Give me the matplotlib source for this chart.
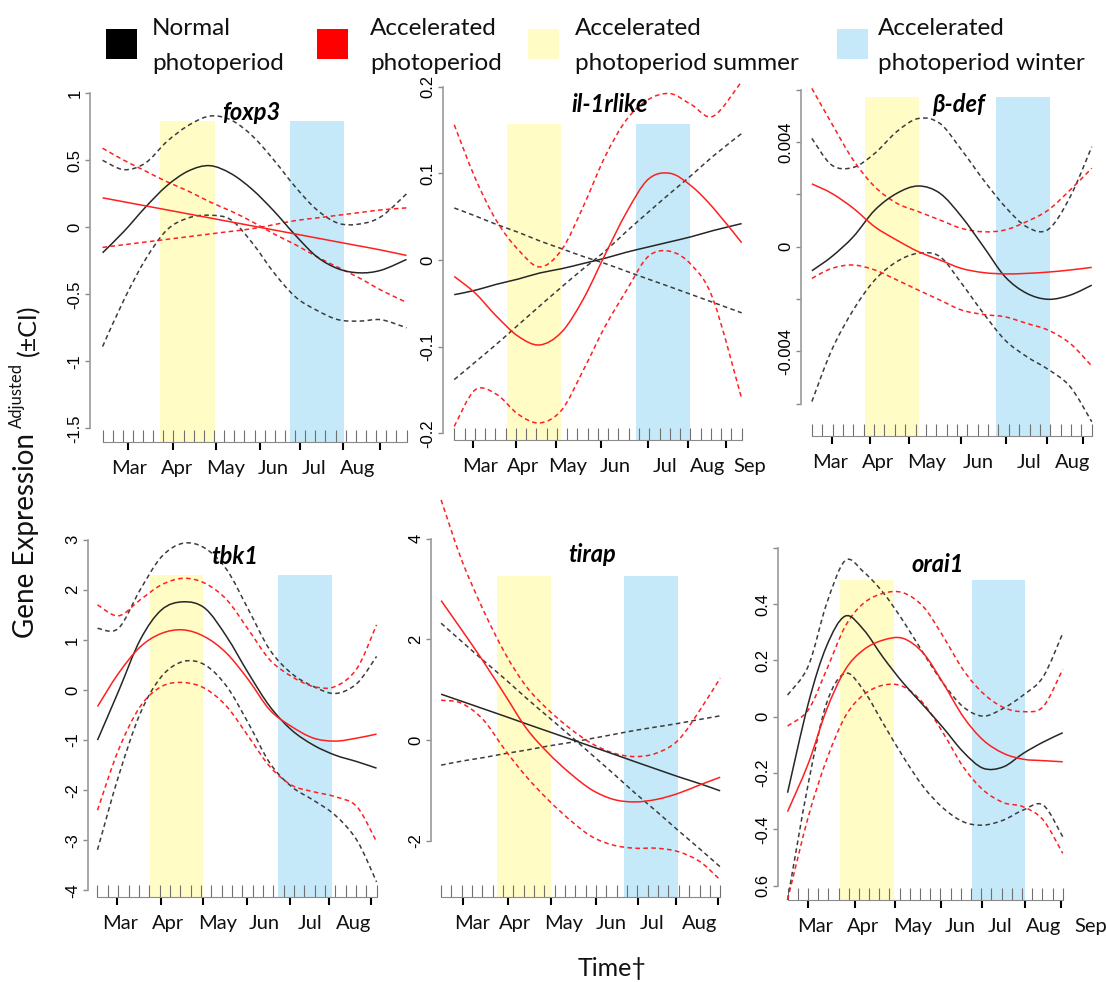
import matplotlib
matplotlib.use("Agg")
import matplotlib.pyplot as plt
import numpy as np
from matplotlib.path import Path
from matplotlib.patches import PathPatch

W, H = 1106, 982
TEXT_FONT = ["Lato", "DejaVu Sans"]
TICK_FONT = ["Liberation Sans", "DejaVu Sans"]

NORMAL = "#262626"
NORMAL_CI = "#3c3c3c"
RED = "#ff1f1f"
SUMMER = "#fffcc6"
WINTER = "#c5e9f8"

months = ["Mar", "Apr", "May", "Jun", "Jul", "Aug", "Sep"]

# time axis: months counted from the Mar tick

# foxp3
foxp3_x = [-0.60, -0.10, 0.40, 0.90, 1.40, 1.90, 2.40, 2.90, 3.40, 3.90, 4.40, 4.90, 5.40, 5.90, 6.49]
foxp3_normal = [-0.19, -0.03, 0.15, 0.31, 0.42, 0.46, 0.40, 0.28, 0.12, -0.06, -0.22, -0.31, -0.34, -0.32, -0.24]
foxp3_normal_ci1 = [0.50, 0.43, 0.48, 0.64, 0.76, 0.83, 0.80, 0.68, 0.50, 0.30, 0.13, 0.03, 0.025, 0.08, 0.25]
foxp3_normal_ci2 = [-0.89, -0.54, -0.24, -0.02, 0.07, 0.09, 0.055, -0.12, -0.34, -0.52, -0.62, -0.69, -0.70, -0.69, -0.75]
foxp3_accel = [0.22, 0.19, 0.16, 0.13, 0.10, 0.07, 0.04, 0.01, -0.02, -0.05, -0.08, -0.11, -0.14, -0.17, -0.21]
foxp3_accel_ci1 = [0.59, 0.50, 0.42, 0.34, 0.27, 0.19, 0.12, 0.04, -0.05, -0.13, -0.22, -0.30, -0.38, -0.47, -0.56]
foxp3_accel_ci2 = [-0.15, -0.13, -0.11, -0.09, -0.07, -0.05, -0.03, -0.01, 0.02, 0.05, 0.07, 0.09, 0.11, 0.13, 0.145]

# il-1rlike
il1r_x = [-0.45, 0.04, 0.55, 1.06, 1.57, 2.09, 2.60, 3.11, 3.62, 4.13, 4.65, 5.16, 5.67, 6.34]
il1r_normal = [-0.040, -0.035, -0.028, -0.022, -0.015, -0.010, -0.004, 0.002, 0.009, 0.015, 0.021, 0.027, 0.034, 0.042]
il1r_normal_ci1 = [0.060, 0.051, 0.041, 0.032, 0.022, 0.013, 0.004, -0.004, -0.013, -0.022, -0.031, -0.040, -0.049, -0.061]
il1r_normal_ci2 = [-0.138, -0.118, -0.097, -0.075, -0.053, -0.031, -0.010, 0.010, 0.033, 0.055, 0.077, 0.098, 0.120, 0.146]
il1r_accel = [-0.019, -0.038, -0.065, -0.088, -0.098, -0.083, -0.045, 0.006, 0.055, 0.093, 0.100, 0.085, 0.060, 0.020]
il1r_accel_ci1 = [0.156, 0.095, 0.045, 0.012, -0.008, 0.012, 0.062, 0.119, 0.162, 0.185, 0.192, 0.179, 0.166, 0.206]
il1r_accel_ci2 = [-0.192, -0.150, -0.155, -0.178, -0.188, -0.173, -0.127, -0.077, -0.035, 0.004, 0.010, -0.006, -0.046, -0.160]

# beta-defensin
bdef_x = [-0.46, 0.00, 0.50, 1.00, 1.51, 2.01, 2.51, 3.01, 3.52, 4.02, 4.52, 5.02, 5.53, 6.03]
bdef_normal = [-0.00092, -0.00038, 0.00038, 0.0014, 0.00204, 0.00232, 0.00204, 0.00115, 0.0, -0.00115, -0.00178, -0.00201, -0.00185, -0.00147]
bdef_normal_ci1 = [0.00414, 0.00312, 0.00303, 0.00357, 0.0044, 0.0049, 0.00471, 0.0037, 0.00255, 0.00153, 0.00076, 0.00066, 0.00191, 0.00382]
bdef_normal_ci2 = [-0.00592, -0.00395, -0.00242, -0.00127, -0.00057, -0.00025, -0.00038, -0.0014, -0.00255, -0.00357, -0.0042, -0.00469, -0.00535, -0.00669]
bdef_accel = [0.0024, 0.00204, 0.00147, 0.00076, 0.00025, -0.00019, -0.00051, -0.00083, -0.00099, -0.00104, -0.00102, -0.00097, -0.00089, -0.00079]
bdef_accel_ci1 = [0.00605, 0.00471, 0.00331, 0.00229, 0.00166, 0.00134, 0.00102, 0.0007, 0.00057, 0.00064, 0.00096, 0.0014, 0.00217, 0.003]
bdef_accel_ci2 = [-0.00121, -0.00083, -0.0007, -0.00089, -0.00127, -0.00166, -0.00204, -0.00242, -0.00259, -0.00268, -0.00293, -0.00319, -0.0037, -0.00456]

# tbk1
tbk1_x = [-0.45, 0.04, 0.55, 1.05, 1.56, 2.07, 2.58, 3.09, 3.59, 4.10, 4.61, 5.12, 5.63, 6.09]
tbk1_normal = [-1.0, -0.03, 1.0, 1.6, 1.76, 1.63, 1.06, 0.33, -0.33, -0.80, -1.10, -1.30, -1.43, -1.56]
tbk1_normal_ci1 = [1.23, 1.23, 2.0, 2.66, 2.93, 2.83, 2.40, 1.60, 0.80, 0.33, 0.07, -0.07, 0.13, 0.67]
tbk1_normal_ci2 = [-3.19, -1.73, -0.47, 0.27, 0.57, 0.50, 0.07, -0.67, -1.46, -1.93, -2.20, -2.50, -3.0, -3.83]
tbk1_accel = [-0.33, 0.33, 0.86, 1.13, 1.20, 1.06, 0.73, 0.20, -0.40, -0.73, -0.96, -1.02, -0.96, -0.88]
tbk1_accel_ci1 = [1.70, 1.48, 1.80, 2.10, 2.23, 2.13, 1.80, 1.20, 0.60, 0.27, 0.07, 0.07, 0.43, 1.30]
tbk1_accel_ci2 = [-2.40, -1.20, -0.33, 0.07, 0.15, 0.03, -0.33, -0.93, -1.53, -1.90, -2.03, -2.13, -2.33, -3.03]

# tirap
tirap_x = [-0.52, -0.04, 0.47, 0.98, 1.48, 1.99, 2.50, 3.01, 3.52, 4.02, 4.53, 5.04, 5.55, 6.02]
tirap_normal = [0.91, 0.77, 0.62, 0.47, 0.32, 0.17, 0.02, -0.13, -0.28, -0.43, -0.58, -0.73, -0.87, -1.01]
tirap_normal_ci1 = [2.32, 1.96, 1.58, 1.21, 0.83, 0.46, 0.09, -0.29, -0.67, -1.05, -1.42, -1.80, -2.17, -2.52]
tirap_normal_ci2 = [-0.50, -0.42, -0.35, -0.27, -0.20, -0.12, -0.05, 0.03, 0.11, 0.19, 0.26, 0.33, 0.41, 0.48]
tirap_accel = [2.77, 2.19, 1.56, 0.89, 0.23, -0.26, -0.66, -0.99, -1.18, -1.23, -1.18, -1.06, -0.89, -0.74]
tirap_accel_ci1 = [4.77, 3.58, 2.58, 1.72, 1.06, 0.60, 0.23, -0.07, -0.26, -0.33, -0.26, 0.0, 0.60, 1.23]
tirap_accel_ci2 = [0.79, 0.73, 0.40, -0.20, -0.73, -1.19, -1.59, -1.92, -2.09, -2.15, -2.15, -2.22, -2.42, -2.78]

# orai1
orai1_x = [-0.49, 0.00, 0.43, 0.87, 1.30, 1.77, 2.24, 2.72, 3.19, 3.66, 4.13, 4.61, 5.08, 5.55, 6.01]
orai1_normal = [-0.27, 0.047, 0.25, 0.357, 0.31, 0.21, 0.12, 0.04, -0.04, -0.125, -0.183, -0.178, -0.13, -0.09, -0.057]
orai1_normal_ci1 = [0.077, 0.18, 0.40, 0.554, 0.515, 0.44, 0.34, 0.225, 0.118, 0.035, 0.002, 0.03, 0.077, 0.142, 0.296]
orai1_normal_ci2 = [-0.65, -0.237, 0.047, 0.154, 0.095, -0.024, -0.142, -0.249, -0.325, -0.373, -0.385, -0.367, -0.331, -0.314, -0.426]
orai1_accel = [-0.337, -0.166, 0.024, 0.166, 0.237, 0.272, 0.278, 0.225, 0.118, 0.0, -0.083, -0.13, -0.151, -0.156, -0.16]
orai1_accel_ci1 = [-0.033, 0.024, 0.166, 0.32, 0.402, 0.438, 0.44, 0.39, 0.284, 0.166, 0.083, 0.033, 0.018, 0.036, 0.168]
orai1_accel_ci2 = [-0.65, -0.355, -0.154, 0.0, 0.077, 0.112, 0.107, 0.047, -0.059, -0.178, -0.26, -0.305, -0.32, -0.367, -0.485]

# shaded windows (start, end) in months and their upper value
summer_spans = [(0.75, 2.02), (0.79, 2.07), (0.77, 2.02), (0.78, 2.03), (0.78, 2.05), (0.75, 2.02)]
winter_spans = [(3.77, 5.03), (3.84, 5.12), (3.81, 5.06), (3.78, 5.05), (3.77, 5.02), (3.87, 5.13)]
shade_tops = [0.79, 0.157, 0.00573, 2.30, 3.25, 0.485]

# month tick marks and month label centres, per panel
month_ticks = [
    [0, 1.05, 2.04, 3.07, 4.0, 5.0, 5.86],
    [0, 1.01, 1.95, 3.02, 4.13, 5.08, 5.98],
    [0, 0.89, 1.80, 3.0, 4.04, 5.0, 5.82],
    [0, 1.03, 2.03, 3.06, 4.06, 4.98, 5.95],
    [0, 1.05, 2.05, 3.11, 4.10, 4.98, 5.98],
    [0, 1.10, 2.05, 3.13, 4.11, 5.12, 5.98],
]
month_label_pos = [
    [0.02, 1.13, 2.27, 3.38, 4.33, 5.34],
    [0.17, 1.18, 2.23, 3.35, 4.54, 5.53, 6.54],
    [-0.03, 1.07, 2.20, 3.40, 4.58, 5.58],
    [0.09, 1.21, 2.37, 3.46, 4.54, 5.55],
    [0.20, 1.21, 2.36, 3.47, 4.42, 5.53],
    [0.17, 1.30, 2.47, 3.58, 4.54, 5.55, 6.67],
]

y_ticks = [
    [-1.5, -1, -0.5, 0, 0.5, 1],
    [-0.2, -0.1, 0, 0.1, 0.2],
    [-0.006, -0.004, -0.002, 0, 0.002, 0.004, 0.006],
    [-4, -3, -2, -1, 0, 1, 2, 3],
    [-2, 0, 2, 4],
    [-0.6, -0.4, -0.2, 0, 0.2, 0.4, 0.6],
]
y_tick_labels = [
    ["-1.5", "-1", "-0.5", "0", "0.5", "1"],
    ["-0.2", "-0.1", "0", "0.1", "0.2"],
    ["", "-0.004", "", "0", "", "0.004", ""],
    ["-4", "-3", "-2", "-1", "0", "1", "2", "3"],
    ["-2", "0", "2", "4"],
    ["0.6", "-0.4", "-0.2", "0", "0.2", "0.4", ""],
]

genes = ["foxp3", "il-1rlike", "β-def", "tbk1", "tirap", "orai1"]
curves = [
    (foxp3_x, foxp3_normal, foxp3_normal_ci1, foxp3_normal_ci2, foxp3_accel, foxp3_accel_ci1, foxp3_accel_ci2),
    (il1r_x, il1r_normal, il1r_normal_ci1, il1r_normal_ci2, il1r_accel, il1r_accel_ci1, il1r_accel_ci2),
    (bdef_x, bdef_normal, bdef_normal_ci1, bdef_normal_ci2, bdef_accel, bdef_accel_ci1, bdef_accel_ci2),
    (tbk1_x, tbk1_normal, tbk1_normal_ci1, tbk1_normal_ci2, tbk1_accel, tbk1_accel_ci1, tbk1_accel_ci2),
    (tirap_x, tirap_normal, tirap_normal_ci1, tirap_normal_ci2, tirap_accel, tirap_accel_ci1, tirap_accel_ci2),
    (orai1_x, orai1_normal, orai1_normal_ci1, orai1_normal_ci2, orai1_accel, orai1_accel_ci1, orai1_accel_ci2),
]

# pixel frames: (left, right, axis line, top) and scale: (Mar px, px per month, zero px, px per unit)
frames = [
    (90, 410, 442, 85), (443.3, 745, 440, 80), (800.7, 1095, 436, 85),
    (87.7, 378, 896.7, 520), (431, 722, 896.7, 505), (777.7, 1064, 900, 520),
]
scales = [
    (128.3, 42.87, 227.3, 134.0), (473.3, 42.33, 260.0, 866.7), (831.7, 43.13, 246.7, 26167.0),
    (116.7, 42.67, 690.0, 50.1), (463.3, 42.67, 740.0, 50.33), (808.3, 42.33, 716.7, 281.7),
]
title_pos = [(251, 112), (610, 105), (958, 105), (235, 557), (592, 555), (938, 565)]


def smooth_curve(ax, x, y, color, dashed):
    # Catmull-Rom spline through the points, drawn as cubic Bezier segments
    p = np.column_stack([x, y]).astype(float)
    n = len(p)
    verts, codes = [p[0]], [Path.MOVETO]
    for i in range(n - 1):
        a = p[i - 1] if i > 0 else p[i]
        b, c = p[i], p[i + 1]
        d = p[i + 2] if i + 2 < n else p[i + 1]
        verts += [b + (c - a) / 6, c - (d - b) / 6, c]
        codes += [Path.CURVE4] * 3
    ls = (0, (3.0, 2.2)) if dashed else "-"
    ax.add_patch(PathPatch(Path(verts, codes), fill=False, edgecolor=color, lw=1.1,
                           linestyle=ls, clip_on=False, zorder=3))


fig = plt.figure(figsize=(W / 100, H / 100), dpi=100)

for k in range(6):
    left, right, base, top = frames[k]
    mar_px, ppm, zero_px, ppu = scales[k]
    ax = fig.add_axes([left / W, 1 - base / H, (right - left) / W, (base - top) / H])
    ax.patch.set_alpha(0)
    ax.set_xlim((left - mar_px) / ppm, (right - mar_px) / ppm)
    y_lo = (zero_px - base) / ppu
    ax.set_ylim(y_lo, (zero_px - top) / ppu)

    for (x0, x1), color in ((summer_spans[k], SUMMER), (winter_spans[k], WINTER)):
        ax.fill_between([x0, x1], y_lo, shade_tops[k], color=color, lw=0, zorder=0)

    x, nm, n1, n2, ac, a1, a2 = curves[k]
    smooth_curve(ax, x, n1, NORMAL_CI, True)
    smooth_curve(ax, x, n2, NORMAL_CI, True)
    smooth_curve(ax, x, a1, RED, True)
    smooth_curve(ax, x, a2, RED, True)
    smooth_curve(ax, x, nm, NORMAL, False)
    smooth_curve(ax, x, ac, RED, False)

    for s in ("top", "right"):
        ax.spines[s].set_visible(False)
    ax.spines["left"].set_color("#9a9a9a")
    ax.spines["left"].set_linewidth(1.2)
    ax.spines["left"].set_bounds(min(y_ticks[k]), max(y_ticks[k]))
    ax.spines["bottom"].set_color("#8a8a8a")
    ax.spines["bottom"].set_bounds(x[0], x[-1])

    ax.set_yticks(y_ticks[k], y_tick_labels[k], fontfamily=TICK_FONT, fontsize=12)
    ax.tick_params(axis="y", direction="out", length=3.5, width=1, color="#8a8a8a",
                   labelrotation=90, pad=2)
    for lab in ax.get_yticklabels():
        lab.set_verticalalignment("center")

    # sampling rug along the time axis, about one mark per 10 px
    n_rug = int(round((x[-1] - x[0]) * ppm / 10.2)) + 1
    ax.set_xticks(np.linspace(x[0], x[-1], n_rug), minor=True)
    ax.set_xticks(month_ticks[k])
    ax.tick_params(axis="x", which="major", direction="out", length=5.5, width=1.5,
                   color="black", labelbottom=False)
    ax.tick_params(axis="x", which="minor", direction="in", length=8.5, width=0.8,
                   color="#707070")

    for pos, name in zip(month_label_pos[k], months):
        ax.annotate(name, xy=(pos, 0), xycoords=ax.get_xaxis_transform(),
                    xytext=(0, -19), textcoords="offset points", ha="center", va="center",
                    fontfamily=TEXT_FONT, fontsize=14.5, color="#111111")

    tx, ty = title_pos[k]
    fig.text(tx / W, 1 - ty / H, genes[k], ha="center", va="center", fontfamily=TEXT_FONT,
             fontsize=17, fontweight="bold", fontstyle="italic", color="black")

# legend row
legend_items = [
    (106, 152, "black", "Normal", "photoperiod"),
    (317, 370, "#ff0000", "Accelerated", "photoperiod"),
    (528, 575, SUMMER, "Accelerated", "photoperiod summer"),
    (837, 878, WINTER, "Accelerated", "photoperiod winter"),
]
for sq_x, txt_x, color, line1, line2 in legend_items:
    fig.patches.append(plt.Rectangle((sq_x / W, 1 - 59 / H), 31 / W, 30 / H,
                                     transform=fig.transFigure, color=color, lw=0))
    fig.text(txt_x / W, 1 - 35 / H, line1, ha="left", va="baseline",
             fontfamily=TEXT_FONT, fontsize=17.5, color="#111111")
    fig.text(txt_x / W, 1 - 70 / H, line2, ha="left", va="baseline",
             fontfamily=TEXT_FONT, fontsize=17.5, color="#111111")

# axis titles
fig.text(26 / W, 1 - 536 / H, "Gene Expression", rotation=90, ha="center", va="center",
         fontfamily=TEXT_FONT, fontsize=20, color="#111111")
fig.text(17 / W, 1 - 395 / H, "Adjusted", rotation=90, ha="center", va="center",
         fontfamily=TEXT_FONT, fontsize=12, color="#111111")
fig.text(29 / W, 1 - 330 / H, "(±CI)", rotation=90, ha="center", va="center",
         fontfamily=TEXT_FONT, fontsize=18, color="#111111")
fig.text(612 / W, 1 - 968 / H, "Time†", ha="center", va="center",
         fontfamily=TEXT_FONT, fontsize=18, color="#111111")

fig.savefig("out.png", dpi=100)
